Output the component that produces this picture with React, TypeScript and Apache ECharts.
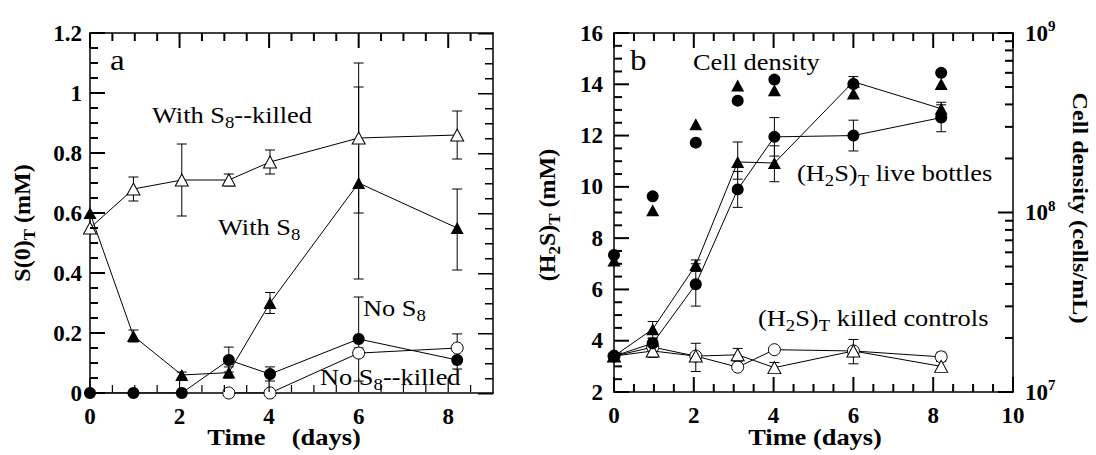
import React, { useEffect, useRef } from 'react';
import * as echarts from 'echarts';

// ---------- data ----------
const DAYS = [0, 0.97, 2.05, 3.1, 4.02, 6, 8.2];

// Panel a: S(0)T (mM)
const A_WITH_S8_KILLED = [0.55, 0.68, 0.71, 0.71, 0.77, 0.85, 0.86];
const A_WITH_S8_KILLED_LO = [null, 0.64, 0.59, 0.69, 0.73, 0.6, 0.78];
const A_WITH_S8_KILLED_HI = [null, 0.72, 0.83, 0.73, 0.81, 1.1, 0.94];
const A_WITH_S8 = [0.6, 0.19, 0.06, 0.068, 0.3, 0.7, 0.55];
const A_WITH_S8_LO = [null, 0.17, 0.05, 0.05, 0.265, 0.38, 0.41];
const A_WITH_S8_HI = [null, 0.21, 0.07, 0.087, 0.335, 1.02, 0.68];
const A_NO_S8 = [0, 0, 0, 0.11, 0.063, 0.18, 0.11];
const A_NO_S8_LO = [null, null, null, 0.07, 0.04, 0.04, 0.08];
const A_NO_S8_HI = [null, null, null, 0.153, 0.087, 0.32, 0.14];
const A_NO_S8_KILLED = [null, null, null, 0, 0, 0.133, 0.15];
const A_NO_S8_KILLED_LO = [null, null, null, null, null, 0.12, 0.11];
const A_NO_S8_KILLED_HI = [null, null, null, null, null, 0.15, 0.197];

// Panel b: (H2S)T (mM)
const B_LIVE_CIRCLE = [3.4, 3.9, 6.2, 9.9, 11.95, 12.0, 12.7];
const B_LIVE_CIRCLE_LO = [null, 3.7, 5.35, 9.2, 11.2, 11.4, 12.15];
const B_LIVE_CIRCLE_HI = [null, 4.1, 7.0, 10.6, 12.7, 12.6, 13.2];
const B_LIVE_TRIANGLE = [3.4, 4.45, 6.95, 10.97, 10.93, 14.1, 13.05];
const B_LIVE_TRIANGLE_LO = [null, 4.1, 6.7, 10.3, 10.2, 13.9, 12.8];
const B_LIVE_TRIANGLE_HI = [null, 4.75, 7.15, 11.75, 11.6, 14.3, 13.3];
const B_KILLED_CIRCLE = [3.4, 3.75, 3.4, 2.97, 3.65, 3.6, 3.37];
const B_KILLED_CIRCLE_LO = [null, null, 2.8, null, null, 3.1, 3.2];
const B_KILLED_CIRCLE_HI = [null, null, 3.9, null, null, 4.05, 3.55];
const B_KILLED_TRIANGLE = [3.4, 3.6, 3.4, 3.45, 2.95, 3.6, 3.0];
const B_KILLED_TRIANGLE_LO = [null, 3.35, null, 3.2, 2.75, null, 2.8];
const B_KILLED_TRIANGLE_HI = [null, 3.85, null, 3.7, 3.15, null, 3.2];

// Cell density (cells/mL), log axis
const CELL_CIRCLE = [5.8e7, 1.23e8, 2.45e8, 4.2e8, 5.5e8, 5.2e8, 6.0e8];
const CELL_TRIANGLE = [5.4e7, 1.03e8, 3.1e8, 5.1e8, 4.8e8, 4.6e8, 5.2e8];

// axis tick values
const A_X_MAJOR = [0, 2, 4, 6, 8];
const A_X_MINOR = [0.5, 1, 1.5, 2.5, 3, 3.5, 4.5, 5, 5.5, 6.5, 7, 7.5, 8.5];
const A_Y_MAJOR = [0, 0.2, 0.4, 0.6, 0.8, 1, 1.2];
const A_Y_MINOR = [0.05, 0.1, 0.15, 0.25, 0.3, 0.35, 0.45, 0.5, 0.55, 0.65, 0.7, 0.75, 0.85, 0.9, 0.95, 1.05, 1.1, 1.15];
const B_X_MAJOR = [0, 2, 4, 6, 8, 10];
const B_X_MINOR = [0.5, 1, 1.5, 2.5, 3, 3.5, 4.5, 5, 5.5, 6.5, 7, 7.5, 8.5, 9, 9.5];
const B_Y_MAJOR = [2, 4, 6, 8, 10, 12, 14, 16];
const B_Y_MINOR = [2.5, 3, 3.5, 4.5, 5, 5.5, 6.5, 7, 7.5, 8.5, 9, 9.5, 10.5, 11, 11.5, 12.5, 13, 13.5, 14.5, 15, 15.5];
const LOG_MAJOR = [1e7, 1e8, 1e9];
const LOG_MINOR = [2e7, 3e7, 4e7, 5e7, 6e7, 7e7, 8e7, 9e7, 2e8, 3e8, 4e8, 5e8, 6e8, 7e8, 8e8, 9e8];

// ---------- helpers ----------
const SERIF = 'Liberation Serif';
const BLACK = '#000';
const MAJOR_LEN = 15;
const MINOR_LEN = 8;

function pts(xs: number[], ys: (number | null)[]) {
  return xs.map((x, i) => [x, ys[i]]);
}
function errData(xs: number[], lo: (number | null)[], hi: (number | null)[]) {
  const out: number[][] = [];
  xs.forEach((x, i) => {
    if (lo[i] != null && hi[i] != null) out.push([x, lo[i] as number, hi[i] as number]);
  });
  return out;
}
function errSeries(xi: number, yi: number, xs: number[], lo: any[], hi: any[]) {
  return {
    type: 'custom', xAxisIndex: xi, yAxisIndex: yi, z: 1, silent: true,
    data: errData(xs, lo, hi),
    renderItem: (params: any, api: any) => {
      const x = api.value(0);
      const a = api.coord([x, api.value(1)]);
      const b = api.coord([x, api.value(2)]);
      const w = 5;
      const st = { stroke: BLACK, lineWidth: 1 };
      return {
        type: 'group',
        children: [
          { type: 'line', shape: { x1: a[0], y1: a[1], x2: b[0], y2: b[1] }, style: st },
          { type: 'line', shape: { x1: a[0] - w, y1: a[1], x2: a[0] + w, y2: a[1] }, style: st },
          { type: 'line', shape: { x1: b[0] - w, y1: b[1], x2: b[0] + w, y2: b[1] }, style: st },
        ],
      };
    },
  };
}
function lineSeries(xi: number, yi: number, ys: any[], symbol: string, filled: boolean, z = 3) {
  return {
    type: 'line', xAxisIndex: xi, yAxisIndex: yi, z,
    data: pts(DAYS, ys), symbol,
    symbolSize: symbol === 'triangle' ? [13, 12] : 12,
    showSymbol: true, connectNulls: false,
    lineStyle: { color: BLACK, width: 1 },
    itemStyle: filled
      ? { color: BLACK, borderColor: BLACK, borderWidth: 0, opacity: 1 }
      : { color: '#fff', borderColor: BLACK, borderWidth: 1, opacity: 1 },
    emphasis: { disabled: true },
  };
}
const axisLineStyle = () => ({ show: true, onZero: false, lineStyle: { color: BLACK, width: 1.5 } });
const labelStyle = () => ({ color: BLACK, fontFamily: SERIF, fontWeight: 'bold' as const, fontSize: 23 });
function xAxis(grid: number, max: number, top: boolean) {
  return {
    type: 'value', gridIndex: grid, position: top ? 'top' : 'bottom', min: 0, max, interval: 2,
    axisLine: axisLineStyle(), axisTick: { show: false }, minorTick: { show: false }, splitLine: { show: false },
    axisLabel: top ? { show: false } : { ...labelStyle(), margin: 12, showMaxLabel: max === 10 },
  };
}
const rich = (size: number, bold: boolean) => ({
  n: { fontFamily: SERIF, fontSize: size, fontWeight: bold ? 'bold' : 'normal', fill: BLACK, lineHeight: size + 4 },
  s: {
    fontFamily: SERIF, fontSize: Math.round(size * 0.72), fontWeight: bold ? 'bold' : 'normal', fill: BLACK,
    lineHeight: Math.round(size * 0.72) + 2, padding: [Math.round(size * 0.62), 0, 0, 0],
  },
});
function txt(text: string, x: number, y: number, size = 24, bold = false, extra: any = {}) {
  return {
    type: 'text', x, y, z: 100, silent: true,
    style: { text, rich: rich(size, bold), align: extra.align || 'left', verticalAlign: 'middle', fill: BLACK },
    scaleX: extra.scaleX ?? 1.1, scaleY: 1, rotation: extra.rotation || 0,
  };
}

// tick element variants
function lineW2(x1: number, y1: number, x2: number, y2: number) {
  return { type: 'line', z: 90, shape: { x1, y1, x2, y2 }, style: { stroke: BLACK, lineWidth: 2 } };
}
function rectTick(x1: number, y1: number, x2: number, y2: number) {
  const x = Math.min(x1, x2);
  const y = Math.min(y1, y2);
  const w = Math.max(Math.abs(x2 - x1), 1.5);
  const h = Math.max(Math.abs(y2 - y1), 1.5);
  return { type: 'rect', z: 90, shape: { x, y, width: w, height: h }, style: { fill: BLACK } };
}
function lineW1Off(x1: number, y1: number, x2: number, y2: number) {
  // starts one pixel off the frame
  const dx = Math.sign(x2 - x1);
  const dy = Math.sign(y2 - y1);
  return { type: 'line', z: 90, shape: { x1: x1 + dx, y1: y1 + dy, x2, y2 }, style: { stroke: 'rgb(0,0,0)', lineWidth: 1.2 } };
}

export default function App() {
  const ref = useRef<HTMLDivElement>(null);
  useEffect(() => {
    if (!ref.current) return;
    const chart = echarts.init(ref.current, undefined, { renderer: 'svg' });

    const option: any = {
      animation: false,
      backgroundColor: '#fff',
      grid: [
        { left: 90, top: 33, width: 403, height: 360 },
        { left: 614, top: 33, width: 399, height: 359 },
      ],
      xAxis: [xAxis(0, 9, false), xAxis(0, 9, true), xAxis(1, 10, false), xAxis(1, 10, true)],
      yAxis: [
        { type: 'value', gridIndex: 0, position: 'left', min: 0, max: 1.2, interval: 0.2,
          axisLine: axisLineStyle(), axisTick: { show: false }, minorTick: { show: false }, splitLine: { show: false },
          axisLabel: { ...labelStyle(), margin: 8 } },
        { type: 'value', gridIndex: 0, position: 'right', min: 0, max: 1.2, interval: 0.2,
          axisLine: axisLineStyle(), axisTick: { show: false }, minorTick: { show: false }, splitLine: { show: false },
          axisLabel: { show: false } },
        { type: 'value', gridIndex: 1, position: 'left', min: 2, max: 16, interval: 2,
          axisLine: axisLineStyle(), axisTick: { show: false }, minorTick: { show: false }, splitLine: { show: false },
          axisLabel: { ...labelStyle(), margin: 11 } },
        { type: 'log', logBase: 10, gridIndex: 1, position: 'right', min: 1e7, max: 1e9,
          axisLine: axisLineStyle(), axisTick: { show: false }, minorTick: { show: false }, splitLine: { show: false },
          axisLabel: {
            margin: 12,
            formatter: (v: number) => `{b|10}{p|${Math.round(Math.log10(v))}}`,
            rich: {
              b: { fontFamily: SERIF, fontWeight: 'bold', fontSize: 23, color: BLACK },
              p: { fontFamily: SERIF, fontWeight: 'bold', fontSize: 15, color: BLACK, padding: [0, 0, 14, 0] },
            },
          } },
      ],
      series: [
        errSeries(0, 0, DAYS, A_WITH_S8_KILLED_LO, A_WITH_S8_KILLED_HI),
        errSeries(0, 0, DAYS, A_WITH_S8_LO, A_WITH_S8_HI),
        errSeries(0, 0, DAYS, A_NO_S8_LO, A_NO_S8_HI),
        errSeries(0, 0, DAYS, A_NO_S8_KILLED_LO, A_NO_S8_KILLED_HI),
        errSeries(2, 2, DAYS, B_LIVE_CIRCLE_LO, B_LIVE_CIRCLE_HI),
        errSeries(2, 2, DAYS, B_LIVE_TRIANGLE_LO, B_LIVE_TRIANGLE_HI),
        errSeries(2, 2, DAYS, B_KILLED_CIRCLE_LO, B_KILLED_CIRCLE_HI),
        errSeries(2, 2, DAYS, B_KILLED_TRIANGLE_LO, B_KILLED_TRIANGLE_HI),
        lineSeries(0, 0, A_WITH_S8, 'triangle', true, 3),
        lineSeries(0, 0, A_WITH_S8_KILLED, 'triangle', false, 4),
        lineSeries(0, 0, A_NO_S8_KILLED, 'circle', false, 3),
        lineSeries(0, 0, A_NO_S8, 'circle', true, 4),
        lineSeries(2, 2, B_KILLED_CIRCLE, 'circle', false, 3),
        lineSeries(2, 2, B_KILLED_TRIANGLE, 'triangle', false, 3),
        lineSeries(2, 2, B_LIVE_CIRCLE, 'circle', true, 4),
        lineSeries(2, 2, B_LIVE_TRIANGLE, 'triangle', true, 4),
        { type: 'scatter', xAxisIndex: 2, yAxisIndex: 3, z: 5, data: pts(DAYS, CELL_CIRCLE), symbol: 'circle', symbolSize: 12,
          itemStyle: { color: BLACK, opacity: 1 }, emphasis: { disabled: true } },
        { type: 'scatter', xAxisIndex: 2, yAxisIndex: 3, z: 5, data: pts(DAYS, CELL_TRIANGLE), symbol: 'triangle', symbolSize: [13, 12],
          itemStyle: { color: BLACK, opacity: 1 }, emphasis: { disabled: true } },
      ],
    };
    chart.setOption(option);

    const X = (idx: number, v: number) => chart.convertToPixel({ xAxisIndex: idx } as any, v) as number;
    const Y = (idx: number, v: number) => chart.convertToPixel({ yAxisIndex: idx } as any, v) as number;
    const ticks: any[] = [];
    type Maker = (x1: number, y1: number, x2: number, y2: number) => any;
    const bottomTicks = (xi: number, yi: number, ymin: number, vals: number[], len: number, mk: Maker) => {
      const yb = Y(yi, ymin);
      vals.forEach((v) => { const x = X(xi, v); ticks.push(mk(x, yb, x, yb - len)); });
    };
    const topTicks = (xi: number, yi: number, ymax: number, vals: number[], len: number, mk: Maker) => {
      const yt = Y(yi, ymax);
      vals.forEach((v) => { const x = X(xi, v); ticks.push(mk(x, yt, x, yt + len)); });
    };
    const leftTicks = (xi: number, xmin: number, yi: number, vals: number[], len: number, mk: Maker) => {
      const xl = X(xi, xmin);
      vals.forEach((v) => { const y = Y(yi, v); ticks.push(mk(xl, y, xl + len, y)); });
    };
    const rightTicks = (xi: number, xmax: number, yi: number, vals: number[], len: number, mk: Maker) => {
      const xr = X(xi, xmax);
      vals.forEach((v) => { const y = Y(yi, v); ticks.push(mk(xr, y, xr - len, y)); });
    };

    // panel a
    leftTicks(0, 0, 0, A_Y_MAJOR, MAJOR_LEN, lineW2);
    leftTicks(0, 0, 0, A_Y_MINOR, MINOR_LEN, lineW2);
    rightTicks(0, 9, 0, A_Y_MAJOR, MAJOR_LEN, rectTick);
    rightTicks(0, 9, 0, A_Y_MINOR, MINOR_LEN, rectTick);
    bottomTicks(0, 0, 0, A_X_MAJOR, MAJOR_LEN, lineW1Off);
    bottomTicks(0, 0, 0, A_X_MINOR, MINOR_LEN, lineW1Off);
    topTicks(0, 0, 1.2, A_X_MAJOR, MAJOR_LEN, lineW2);
    topTicks(0, 0, 1.2, A_X_MINOR, MINOR_LEN, lineW2);
    // panel b
    leftTicks(2, 0, 2, B_Y_MAJOR, MAJOR_LEN, lineW2);
    leftTicks(2, 0, 2, B_Y_MINOR, MINOR_LEN, lineW2);
    bottomTicks(2, 2, 2, B_X_MAJOR, MAJOR_LEN, lineW2);
    bottomTicks(2, 2, 2, B_X_MINOR, MINOR_LEN, lineW2);
    topTicks(2, 2, 16, B_X_MAJOR, MAJOR_LEN, lineW2);
    topTicks(2, 2, 16, B_X_MINOR, MINOR_LEN, lineW2);
    rightTicks(2, 10, 3, LOG_MAJOR, MAJOR_LEN, lineW2);
    rightTicks(2, 10, 3, LOG_MINOR, MINOR_LEN, lineW2);

    const texts = [
      txt('{n|a}', 110, 60, 30, false),
      txt('{n|With S}{s|8}{n|--killed}', 152, 115, 24),
      txt('{n|With S}{s|8}', 218, 227, 24),
      txt('{n|No S}{s|8}', 363, 308, 24),
      txt('{n|No S}{s|8}{n|--killed}', 320, 377, 24),
      txt('{n|S(0)}{s|T}{n| (mM)}', 22, 223, 24, true, { align: 'center', rotation: Math.PI / 2, scaleX: 1 }),
      txt('{n|Time    (days)}', 284, 437, 24, true, { align: 'center' }),
      txt('{n|b}', 630, 60, 30, false),
      txt('{n|Cell density}', 693, 62, 24),
      txt('{n|(H}{s|2}{n|S)}{s|T}{n| live bottles}', 797, 173, 24),
      txt('{n|(H}{s|2}{n|S)}{s|T}{n| killed controls}', 758, 318, 24),
      txt('{n|(H}{s|2}{n|S)}{s|T}{n| (mM)}', 547, 215, 24, true, { align: 'center', rotation: Math.PI / 2, scaleX: 1 }),
      txt('{n|Time (days)}', 815, 437, 24, true, { align: 'center' }),
      txt('{n|Cell density (cells/mL)}', 1081, 208, 22, true, { align: 'center', rotation: -Math.PI / 2, scaleX: 1.1 }),
    ];
    chart.setOption({ graphic: [...ticks, ...texts] });
    return () => chart.dispose();
  }, []);
  return <div ref={ref} style={{ position: 'fixed', left: 0, top: 0, width: 1096, height: 455, background: '#fff' }} />;
}
